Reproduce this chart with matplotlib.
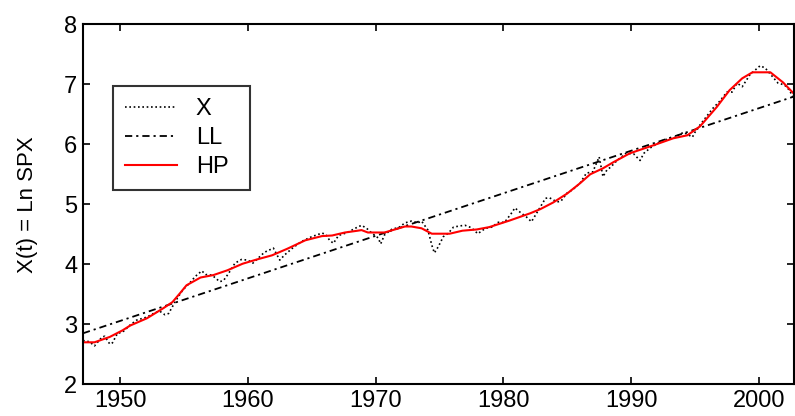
import matplotlib
matplotlib.use("Agg")
import matplotlib.pyplot as plt
from matplotlib import font_manager

# ---------------- data ----------------
x_years = [1947.1, 1947.6, 1948.0, 1948.6, 1948.8, 1949.2, 1949.4, 1949.8, 1950.2, 1950.8,
           1951.3, 1952.1, 1952.7, 1953.1, 1953.5, 1953.8, 1954.3, 1954.5, 1954.9, 1955.5,
           1955.9, 1956.4, 1956.7, 1957.2, 1957.8, 1958.1, 1958.5, 1959.0, 1959.5, 1960.0,
           1960.4, 1960.9, 1961.3, 1962.0, 1962.5, 1962.9, 1963.5, 1964.2, 1965.0, 1965.8,
           1966.1, 1966.4, 1966.7, 1967.1, 1967.8, 1968.4, 1968.9, 1969.3, 1969.7, 1970.2,
           1970.4, 1970.7, 1971.3, 1971.8, 1972.3, 1972.8, 1973.3, 1973.6, 1974.1, 1974.4,
           1974.6, 1974.9, 1975.3, 1975.7, 1976.1, 1976.6, 1977.0, 1977.5, 1978.0, 1978.6,
           1979.1, 1979.6, 1980.1, 1980.7, 1980.9, 1981.3, 1981.8, 1982.2, 1982.6, 1983.3,
           1983.6, 1984.2, 1984.5, 1985.0, 1985.4, 1986.0, 1986.5, 1987.0, 1987.5, 1987.8,
           1988.1, 1988.4, 1988.9, 1989.6, 1990.2, 1990.7, 1991.0, 1991.5, 1992.5, 1993.3,
           1994.1, 1994.8, 1995.1, 1995.6, 1996.4, 1996.9, 1997.5, 1997.9, 1998.3, 1998.7,
           1999.3, 2000.1, 2000.5, 2001.1, 2001.5, 2002.0, 2002.4, 2002.7]
x_values = [2.73, 2.71, 2.64, 2.79, 2.80, 2.67, 2.69, 2.85, 2.87, 2.99,
            3.07, 3.12, 3.19, 3.22, 3.16, 3.18, 3.37, 3.44, 3.57, 3.70,
            3.80, 3.89, 3.83, 3.82, 3.71, 3.73, 3.85, 4.02, 4.08, 4.07,
            4.02, 4.12, 4.20, 4.27, 4.07, 4.16, 4.27, 4.38, 4.46, 4.52,
            4.50, 4.40, 4.35, 4.48, 4.53, 4.60, 4.65, 4.60, 4.52, 4.44,
            4.34, 4.49, 4.59, 4.61, 4.69, 4.72, 4.69, 4.72, 4.57, 4.32,
            4.19, 4.29, 4.46, 4.52, 4.62, 4.64, 4.65, 4.61, 4.51, 4.60,
            4.62, 4.70, 4.70, 4.87, 4.94, 4.87, 4.79, 4.71, 4.85, 5.10,
            5.11, 5.04, 5.05, 5.19, 5.24, 5.35, 5.52, 5.54, 5.79, 5.46,
            5.57, 5.62, 5.73, 5.85, 5.84, 5.73, 5.85, 5.94, 6.07, 6.10,
            6.20, 6.12, 6.24, 6.38, 6.60, 6.71, 6.87, 6.87, 7.02, 6.96,
            7.16, 7.31, 7.27, 7.12, 7.02, 6.99, 6.90, 6.77]

ll_years = [1947.1, 2002.8]
ll_values = [2.85, 6.80]

hp_years = [1947.1, 1948.0, 1949.2, 1950.2, 1950.8, 1952.1, 1953.4, 1954.1, 1954.7, 1955.2,
            1956.3, 1957.3, 1958.4, 1959.6, 1960.7, 1961.9, 1963.1, 1964.5, 1965.8, 1966.6,
            1967.6, 1968.6, 1968.9, 1969.4, 1970.7, 1971.5, 1972.3, 1972.8, 1973.6, 1974.4,
            1975.8, 1976.8, 1977.9, 1978.9, 1980.5, 1982.1, 1982.9, 1983.9, 1985.0, 1986.0,
            1986.8, 1987.8, 1988.6, 1989.9, 1991.7, 1993.3, 1994.4, 1995.4, 1996.7, 1997.7,
            1998.7, 1999.5, 2000.9, 2001.9, 2002.8]
hp_values = [2.70, 2.70, 2.79, 2.90, 2.98, 3.10, 3.27, 3.37, 3.52, 3.65,
             3.78, 3.82, 3.90, 4.01, 4.08, 4.15, 4.26, 4.40, 4.47, 4.48,
             4.53, 4.56, 4.57, 4.53, 4.53, 4.58, 4.63, 4.63, 4.60, 4.51,
             4.51, 4.56, 4.58, 4.62, 4.73, 4.85, 4.92, 5.03, 5.18, 5.35,
             5.50, 5.60, 5.70, 5.85, 5.98, 6.10, 6.15, 6.30, 6.62, 6.90,
             7.10, 7.20, 7.20, 7.03, 6.83]

series_labels = ["X", "LL", "HP"]
x_ticks = [1950, 1960, 1970, 1980, 1990, 2000]
y_ticks = [2, 3, 4, 5, 6, 7, 8]
y_label = "X(t) = Ln SPX"

# ---------------- styling ----------------
names = {f.name for f in font_manager.fontManager.ttflist}
fam = "Liberation Sans Narrow" if "Liberation Sans Narrow" in names else "Liberation Sans"
plt.rcParams["font.family"] = [fam, "DejaVu Sans"]

fig = plt.figure(figsize=(7.95, 4.16), dpi=100)
ax = fig.add_axes([83 / 795, 1 - 384.3 / 416, (794 - 83) / 795, (384.3 - 24.3) / 416])

ax.plot(x_years, x_values, color="black", lw=1.2, linestyle=(0, (1, 1.6)), label=series_labels[0])
ax.plot(ll_years, ll_values, color="black", lw=1.3, linestyle=(0, (4, 2.2, 1.2, 2.2)), label=series_labels[1])
ax.plot(hp_years, hp_values, color="#ff0000", lw=1.5, label=series_labels[2])

ax.set_xlim(1947.1, 2002.75)
ax.set_ylim(2, 8)
ax.set_xticks(x_ticks)
ax.set_yticks(y_ticks)
ax.tick_params(direction="in", length=5, width=1.2, top=True, right=True,
               labelsize=17, pad=4)
for s in ax.spines.values():
    s.set_linewidth(1.5)
ax.set_ylabel(y_label, fontsize=16, labelpad=19)

leg_h = 0.1
leg_top = 1 - 86 / 416
leg = ax.legend(loc="upper left", bbox_to_anchor=(113 / 795, leg_top - leg_h, 137 / 795, leg_h),
                bbox_transform=fig.transFigure, mode="expand", borderaxespad=0,
                fontsize=17, frameon=True, fancybox=False, handlelength=2.2,
                handletextpad=0.8, labelspacing=0.3, borderpad=0.5)
leg.get_frame().set_edgecolor("black")
leg.get_frame().set_linewidth(1.5)

fig.savefig("out.png", dpi=100)
